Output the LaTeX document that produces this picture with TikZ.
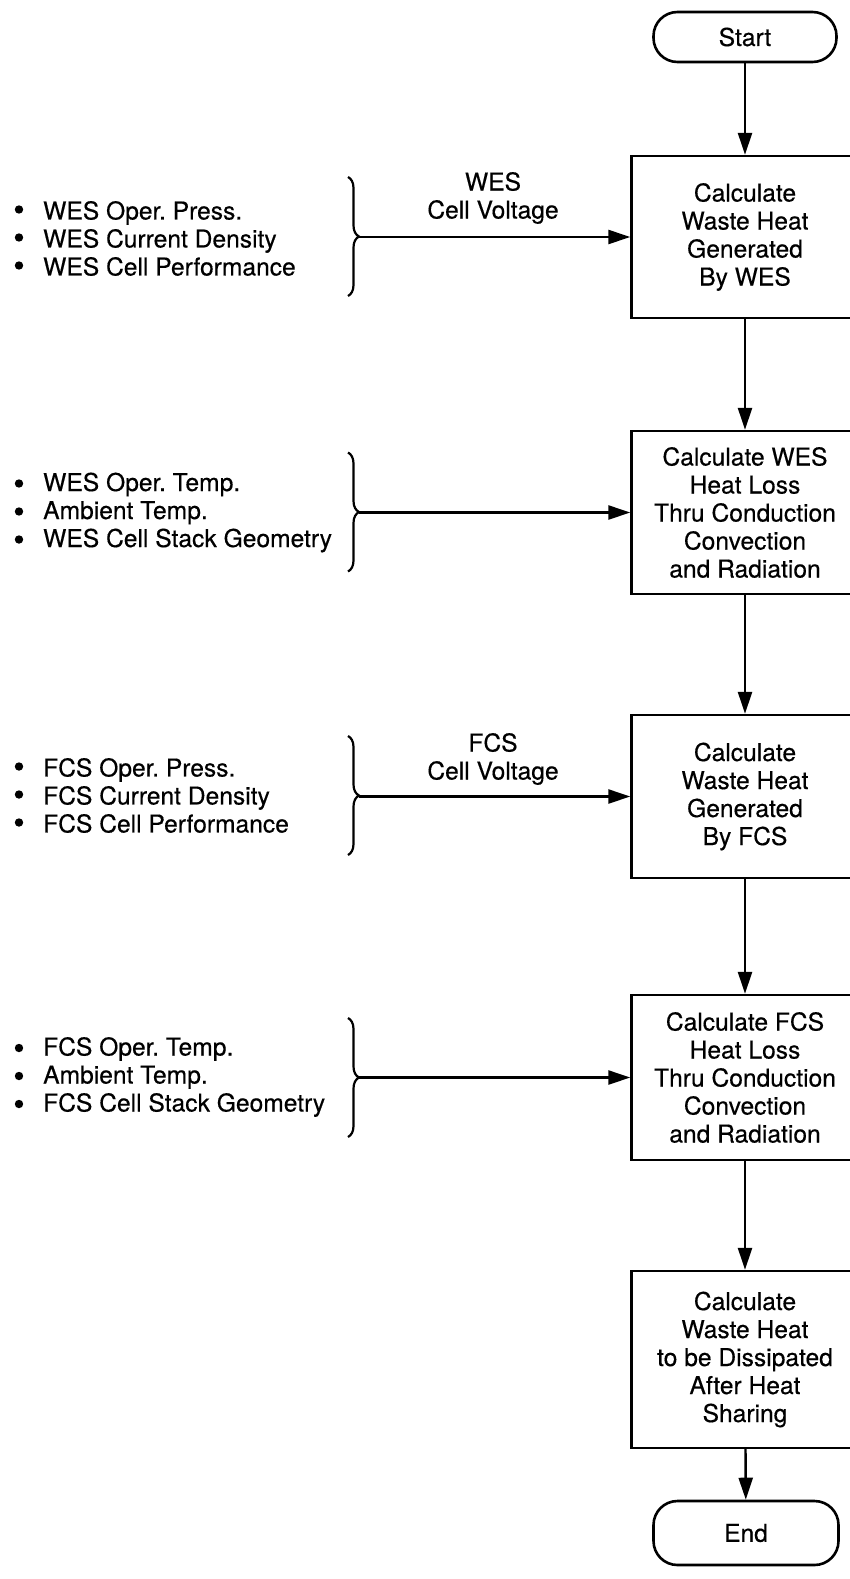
\documentclass[tikz,border=0pt]{standalone}
\usepackage{fontspec}
\setmainfont{TeX Gyre Heros}[FakeBold=0.4]
\usetikzlibrary{arrows.meta,decorations.pathreplacing}
\begin{document}
\frenchspacing
\begin{tikzpicture}[x=0.5pt,y=-0.5pt,line width=1.2pt,
  txt/.style={font=\fontsize{12.3}{14}\selectfont},
  procbox/.style={draw,line width=1.2pt,minimum width=113.5pt,minimum height=#1,inner sep=0pt,align=center,txt},
  termbox/.style={draw,line width=1.3pt,rounded corners=12pt,minimum width=#1,minimum height=25pt,inner sep=0pt,txt},
  flow/.style={-{Triangle[length=11pt,width=7pt]},line width=1.2pt},
  inlist/.style={anchor=west,align=left,inner sep=0pt,txt},
  lbl/.style={align=center,inner sep=0pt,txt},
  bulletdot/.style={fill=black},
  bracedeco/.style={decorate,decoration={brace,amplitude=5.5pt},line width=1.1pt}]
\useasboundingbox (0,0) rectangle (850,1579);

% main column
\node[termbox=91.5pt] (start) at (745,37) {Start};
\node[procbox=81pt] (b1) at (745,237) {Calculate\\Waste Heat\\Generated\\By WES};
\node[procbox=81.5pt] (b2) at (745,512.5) {Calculate WES\\Heat Loss\\Thru Conduction\\Convection\\and Radiation};
\node[procbox=81.5pt] (b3) at (745,796.5) {Calculate\\Waste Heat\\Generated\\By FCS};
\node[procbox=82.5pt] (b4) at (745,1077.5) {Calculate FCS\\Heat Loss\\Thru Conduction\\Convection\\and Radiation};
\node[procbox=88.5pt] (b5) at (745,1359.5) {Calculate\\Waste Heat\\to be Dissipated\\After Heat\\Sharing};
\node[termbox=92.5pt,minimum height=32pt] (end) at (746,1533) {End};

\draw[flow] (start) -- (b1);
\draw[flow] (b1) -- (b2);
\draw[flow] (b2) -- (b3);
\draw[flow] (b3) -- (b4);
\draw[flow] (b4) -- (b5);
\draw[flow] (b5) -- (end);

% input lists
\node[inlist] (l1) at (42,238.5) {WES Oper. Press.\\WES Current Density\\WES Cell Performance};
\node[inlist] (l2) at (42,512.5) {WES Oper. Temp.\\Ambient Temp.\\WES Cell Stack Geometry};
\node[inlist] (l3) at (42,795.5) {FCS Oper. Press.\\FCS Current Density\\FCS Cell Performance};
\node[inlist] (l4) at (42,1077) {FCS Oper. Temp.\\Ambient Temp.\\FCS Cell Stack Geometry};
\foreach \c in {238.5,512.5,795.5,1077}{
  \foreach \d in {-28,0,28}{
    \fill[bulletdot] (19,\c+\d-1) circle (2.1pt);
  }
}

% braces
\draw[bracedeco] (348,177) -- (348,296);
\draw[bracedeco] (348,452.5) -- (348,571.5);
\draw[bracedeco] (348,736) -- (348,855);
\draw[bracedeco] (348,1018) -- (348,1137);
\coordinate (t1) at (359,237);
\coordinate (t2) at (359,512.5);
\coordinate (t3) at (359,796.5);
\coordinate (t4) at (359,1077.5);

\draw[flow] (t1) -- (b1.west);
\draw[flow] (t2) -- (b2.west);
\draw[flow] (t3) -- (b3.west);
\draw[flow] (t4) -- (b4.west);

\node[lbl] (v1) at (493,198) {WES\\Cell Voltage};
\node[lbl] (v3) at (493,759) {FCS\\Cell Voltage};
\end{tikzpicture}
\end{document}
